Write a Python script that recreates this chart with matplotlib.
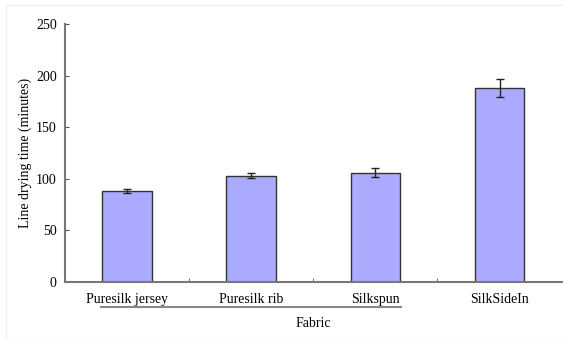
import matplotlib.pyplot as plt
import numpy as np

fabrics = ['Puresilk jersey', 'Puresilk rib', 'Silkspun', 'SilkSideIn']
drying_time = [88, 103, 106, 188]
drying_err = [2, 2.5, 4.5, 9]

plt.rcParams['font.family'] = ['Liberation Serif', 'DejaVu Serif']
plt.rcParams['font.size'] = 10

fig = plt.figure(figsize=(5.63, 3.40), dpi=100)
ax = fig.add_axes([0.1155, 0.1706, 0.882, 0.7588])

x = np.arange(len(fabrics))
ax.bar(x, drying_time, width=0.4, color='#aaaaff', edgecolor='#333333', linewidth=1.0,
       yerr=drying_err, error_kw=dict(ecolor='#222222', elinewidth=1.0, capsize=3, capthick=1.0))

ax.set_xlim(-0.5, len(fabrics) - 0.5)
ax.set_ylim(0, 250)
ax.set_yticks(np.arange(0, 251, 50))

# category names centred, short inward ticks between the groups
ax.set_xticks(x)
ax.set_xticklabels(fabrics)
ax.tick_params(axis='x', which='major', length=0, pad=8)
ax.set_xticks(x[:-1] + 0.5, minor=True)
ax.tick_params(axis='x', which='minor', direction='in', length=3, color='#555555')
ax.tick_params(axis='y', direction='in', length=3, color='#555555', pad=6)

for side in ['top', 'right']:
    ax.spines[side].set_visible(False)
for side in ['left', 'bottom']:
    ax.spines[side].set_color('#777777')
    ax.spines[side].set_linewidth(1.5)

ax.set_ylabel('Line drying time (minutes)', labelpad=3)
ax.set_xlabel('Fabric', labelpad=8)

# grouping rule under the first three fabrics
ax.plot([-0.21, 2.21], [-0.097, -0.097], transform=ax.get_xaxis_transform(),
        color='#888888', linewidth=1.5, clip_on=False)

# thin frame around the figure
fig.add_artist(plt.Rectangle((6 / 563, 0), 1, 1 - 5 / 340, transform=fig.transFigure,
                             fill=False, edgecolor='#eeeeee', linewidth=0.8))

fig.savefig('out.png', dpi=100)
